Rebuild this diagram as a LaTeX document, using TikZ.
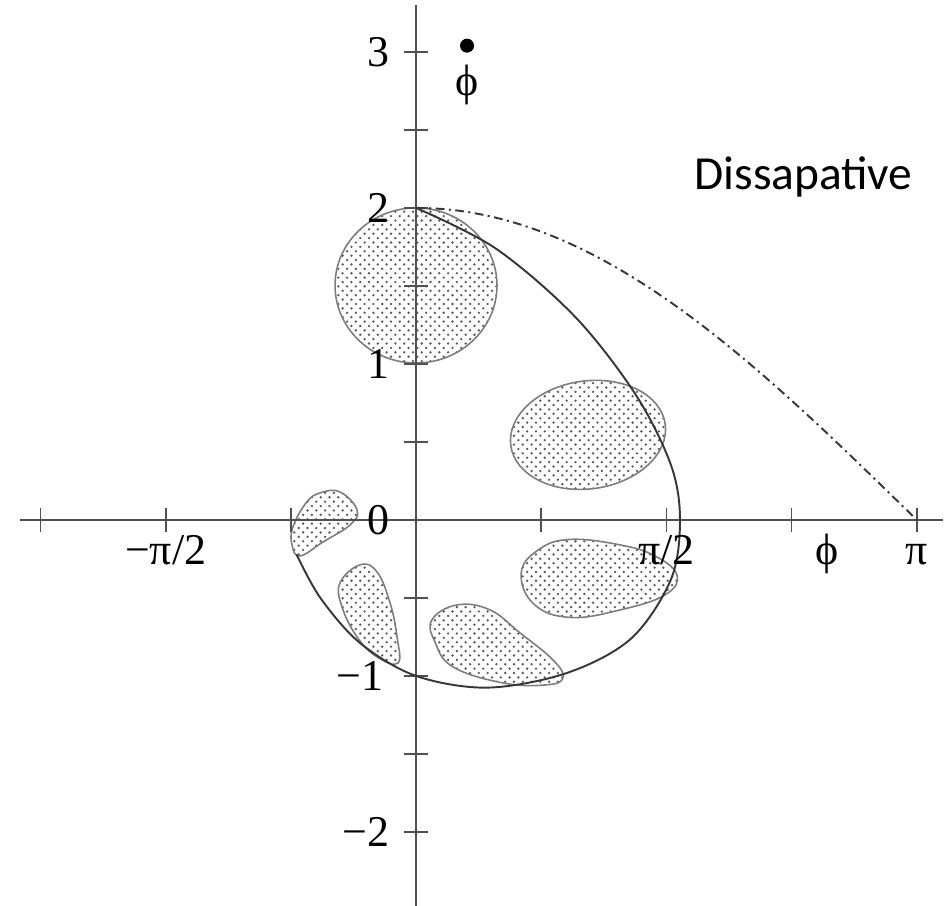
\documentclass[tikz,border=0pt]{standalone}
\usepackage{fontspec}
\setmainfont{Liberation Serif}
\newfontfamily\notefont{Carlito}
\usetikzlibrary{patterns.meta}
\definecolor{axisGray}{RGB}{80,80,80}
\definecolor{curveGray}{RGB}{55,55,55}
\definecolor{blobGray}{RGB}{125,125,125}
\definecolor{dotGray}{RGB}{90,90,90}

\tikzdeclarepattern{
  name=blobdots,
  type=uncolored,
  bottom left={(-1pt,-1pt)},
  top right={(4pt,4pt)},
  tile size={(5pt,5pt)},
  code={
    \fill (0pt,0pt) circle (0.75pt);
    \fill (2.5pt,2.5pt) circle (0.75pt);
  }
}

\begin{document}
\begin{tikzpicture}[
  x=3.188cm, y=3.12cm,
  axis/.style={axisGray, line width=1.3pt},
  tickmark/.style={axisGray, line width=1pt},
  ticklabel/.style={inner sep=0pt, font=\fontsize{25}{30}\selectfont},
  trajectory/.style={curveGray, line width=1.1pt},
  sepline/.style={curveGray, line width=1.1pt,
    dash pattern={on 5pt off 2.5pt on 1.2pt off 2.5pt}},
  blob/.style={draw=blobGray, line width=0.9pt,
    pattern={blobdots}, pattern color=dotGray}
]
  \useasboundingbox (-2.61,-2.474) rectangle (3.35,3.333);

  % blobs of initial conditions
  \draw[blob] (0,1.503) ellipse [x radius=0.508, y radius=0.497];
  \draw[blob, rotate around={8:(1.079,0.545)}]
    (1.079,0.545) ellipse [x radius=0.489, y radius=0.346];
  \draw[blob] plot[smooth cycle, tension=0.7] coordinates {
    (0.660,-0.340) (0.770,-0.190) (0.966,-0.125) (1.280,-0.160)
    (1.499,-0.231) (1.637,-0.353) (1.562,-0.481) (1.280,-0.577)
    (0.966,-0.625) (0.740,-0.540)};
  \draw[blob] plot[smooth cycle, tension=0.7] coordinates {
    (0.100,-0.641) (0.257,-0.545) (0.464,-0.577) (0.652,-0.724)
    (0.859,-0.897) (0.922,-1.013) (0.809,-1.058) (0.546,-1.045)
    (0.232,-0.942) (0.119,-0.782)};
  \draw[blob] plot[smooth cycle, tension=0.7] coordinates {
    (-0.351,-0.288) (-0.245,-0.333) (-0.163,-0.532) (-0.119,-0.750)
    (-0.113,-0.917) (-0.245,-0.878) (-0.370,-0.750) (-0.464,-0.558)
    (-0.477,-0.404)};
  \draw[blob] plot[smooth cycle, tension=0.7] coordinates {
    (-0.477,0.179) (-0.370,0.064) (-0.414,-0.032) (-0.583,-0.141)
    (-0.728,-0.231) (-0.778,-0.160) (-0.772,-0.045) (-0.690,0.109)
    (-0.602,0.173)};

  % axes
  \coordinate (xmin) at (-2.484,0);
  \coordinate (xmax) at (3.306,0);
  \coordinate (ymin) at (0,-2.474);
  \coordinate (ymax) at (0,3.30);
  \draw[axis] (xmin) -- (xmax);
  \draw[axis] (ymin) -- (ymax);
  \foreach \k in {-3,...,4}
    \draw[tickmark] ({\k*pi/4},-0.077) -- ({\k*pi/4},0.077);
  \foreach \v in {-2,-1.5,-1,-0.5,0.5,1,1.5,2,2.5,3}
    \draw[tickmark] (-0.075,\v) -- (0.075,\v);

  % separatrix and damped trajectory
  \draw[sepline] plot[domain=0:pi, samples=80] (\x,{2*cos(\x/2 r)});
  \draw[trajectory] plot[smooth, tension=0.55] coordinates {
    (0,2) (0.5,1.74) (1.0,1.3) (1.38,0.8) (1.6,0.35) (1.656,0)
    (1.6,-0.38) (1.35,-0.76) (0.95,-0.98) (0.45,-1.075) (0,-1.0)
    (-0.35,-0.79) (-0.6,-0.5) (-0.75,-0.22)};

  % tick labels
  \node[ticklabel, anchor=east] (y3) at (-0.163,3) {3};
  \node[ticklabel, anchor=east] (y2) at (-0.163,2) {2};
  \node[ticklabel, anchor=east] (y1) at (-0.163,1) {1};
  \node[ticklabel, anchor=east] (y0) at (-0.163,0) {0};
  \node[ticklabel, anchor=east] (ym1) at (-0.205,-1) {−1};
  \node[ticklabel, anchor=east] (ym2) at (-0.163,-2) {−2};
  \node[ticklabel, anchor=base] (xmhalf) at ({-pi/2},-0.288) {−π/2};
  \node[ticklabel, anchor=base] (xhalf) at ({pi/2},-0.288) {π/2};
  \node[ticklabel, anchor=base] (xpi) at (pi,-0.288) {π};
  \node[ticklabel, anchor=base] (xphi) at (2.578,-0.288) {ϕ};
  \node[ticklabel] (phidot) at (0.32,2.79) {ϕ};
  \fill (phidot.center) ++(0,0.25) circle (0.14cm);

  \node[inner sep=0pt, anchor=base, font=\notefont\fontsize{27}{32}\selectfont]
    (note) at (2.431,2.115) {Dissapative};
\end{tikzpicture}
\end{document}
